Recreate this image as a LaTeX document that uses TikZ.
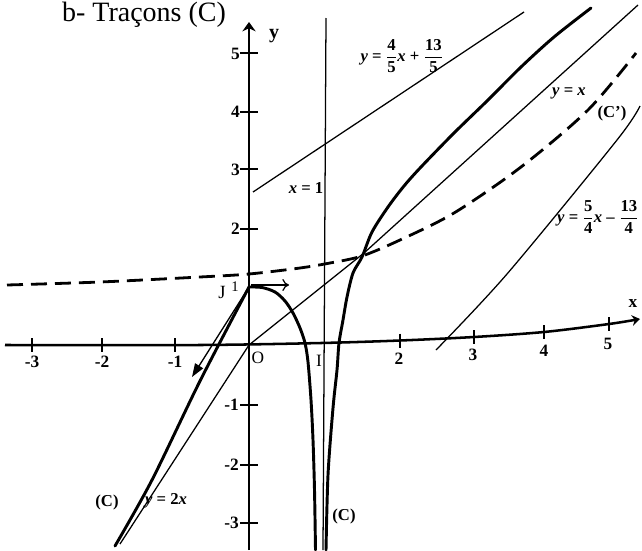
\documentclass[tikz,border=0pt]{standalone}
\usepackage{fontspec}
\setmainfont{Liberation Serif}
\usetikzlibrary{arrows.meta}
\newcommand{\fr}[2]{$\displaystyle\frac{\hbox{#1}}{\hbox{#2}}$}
\begin{document}
\begin{tikzpicture}[x=0.75pt,y=-0.75pt,
  axis/.style={line width=1.9pt},
  curveC/.style={line width=2.2pt,line join=round,line cap=round},
  thinline/.style={line width=0.95pt},
  dashC/.style={line width=2.1pt,dash pattern=on 12pt off 6pt},
  tickmark/.style={line width=1.1pt},
  lab/.style={font=\fontsize{13}{15}\selectfont\bfseries,inner sep=0pt},
  eqlab/.style={font=\fontsize{12.5}{15}\selectfont\bfseries,inner sep=0pt},
  ttl/.style={font=\fontsize{21}{25}\selectfont,inner sep=0pt}]
\useasboundingbox (0,0) rectangle (642,550);
% title
\node[ttl,anchor=base] (title) at (144,21) {b- Traçons (C)};
% key points
\coordinate (O) at (249,345);
\coordinate (J) at (249,287);
% axes
\draw[axis,-{Stealth[length=7pt,width=10pt]}] (249,550) -- (249,22);
\draw[axis,-{Stealth[length=6pt,width=8pt]}] plot[smooth] coordinates {(5,345) (200,345) (321,343) (400,340.5) (474,337) (544,332) (609,324) (640,319)};
\foreach \p/\q in {32/345,102/345,175/345,400/340.5,474/337,544/332,609/324}
  \draw[tickmark] (\p,\q-7) -- (\p,\q+7);
\foreach \q in {53,112,169,229,405,465,523}
  \draw[tickmark] (240,\q) -- (258,\q);
% tick labels
\node[lab] (xm3) at (32,362) {-3};
\node[lab] (xm2) at (102,362) {-2};
\node[lab] (xm1) at (175,362) {-1};
\node[lab] (x2) at (399,359) {2};
\node[lab] (x3) at (473,355) {3};
\node[lab] (x4) at (544,351) {4};
\node[lab] (x5) at (608,344) {5};
\node[lab,anchor=east] (y5) at (240,54) {5};
\node[lab,anchor=east] (y4) at (240,112) {4};
\node[lab,anchor=east] (y3) at (240,170) {3};
\node[lab,anchor=east] (y2) at (240,229) {2};
\node[lab,anchor=east] (ym1) at (239,405) {-1};
\node[lab,anchor=east] (ym2) at (239,465) {-2};
\node[lab,anchor=east] (ym3) at (239,523) {-3};
\node[font=\fontsize{15}{17}\selectfont\bfseries,inner sep=0pt] (ylab) at (274,36) {y};
\node[font=\fontsize{13}{15}\selectfont\bfseries,inner sep=0pt] (xlab) at (633,304) {x};
\node[font=\fontsize{14}{16}\selectfont,inner sep=0pt] (Jlab) at (222,292) {J};
\node[font=\fontsize{11}{13}\selectfont,inner sep=0pt] (onelab) at (235,287) {1};
\node[font=\fontsize{13}{15}\selectfont,inner sep=0pt] (Olab) at (258,358) {O};
\node[font=\fontsize{13}{15}\selectfont,inner sep=0pt] (Ilab) at (319,361) {I};
% straight lines
\draw[thinline] (326,18) -- (323,550);
\draw[thinline] (253,192) -- (524,12);
\draw[thinline] (O) -- (364,253) -- (638,5);
\draw[thinline] (O) -- (120,544);
\draw[thinline] plot[smooth] coordinates {(436,350) (507,274) (617,140) (640,106)};
% dashed curve
\draw[dashC] plot[smooth] coordinates {(7,285) (100,282) (200,277) (249,274) (300,268) (330,263) (362,256) (400,240) (454,213) (521,167) (588,110) (636,53)};
% curve (C)
\draw[curveC] plot[smooth] coordinates {(115,546) (152,480) (200,381) (J)};
\draw[curveC] plot[smooth] coordinates {(J) (262,287.5) (275,292) (285,301) (293,313) (300,328) (305,343) (308,362) (311,400) (313,440) (314.5,490) (315.5,550)};
\draw[curveC] plot[smooth] coordinates {(326,550) (328,475) (333,408) (337,370) (339,343) (343,320) (347,297) (353,273) (362,257) (372,232) (388,207) (404,186) (421,167) (454,133) (488,100) (521,67) (554,37) (591,8)};
% half tangents
\draw[line width=1pt,-{Triangle[length=10pt,width=7pt]}] (J) -- (192,377);
\draw[line width=0.9pt,-{To[length=5pt,width=9pt]}] (251,285) -- (289,285);
% labels
\node[eqlab] (l1) at (402,56) {\textit{y} = \fr{4}{5}\textit{x} + \fr{13}{5}};
\node[eqlab] (l2) at (569,93) {\textit{y} = \textit{x}};
\node[eqlab] (l3) at (612,113) {(C')};
\node[eqlab] (l4) at (598,217) {\textit{y} = \fr{5}{4}\textit{x} -- \fr{13}{4}};
\node[eqlab] (l5) at (306,188) {\textit{x} = 1};
\node[eqlab] (l6) at (107,502) {(C)};
\node[eqlab] (l7) at (166,501) {\textit{y} = 2\textit{x}};
\node[eqlab] (l8) at (344,516) {(C)};
\end{tikzpicture}
\end{document}
